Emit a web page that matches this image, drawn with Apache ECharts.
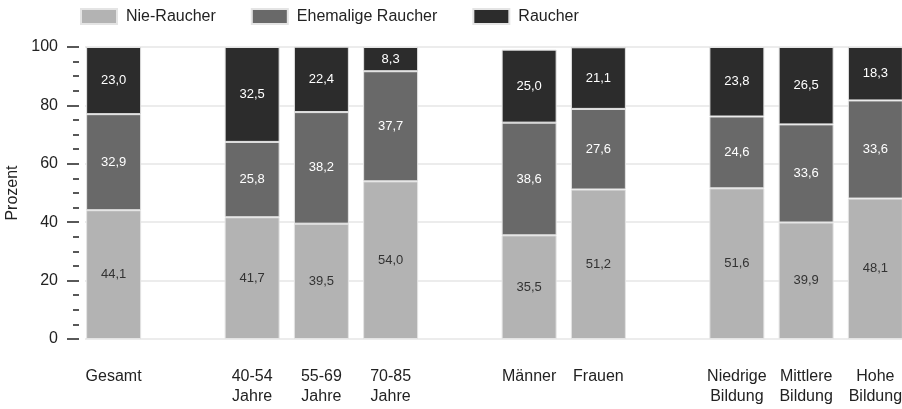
<!DOCTYPE html>
<html>
<head>
<meta charset="utf-8">
<script src="https://cdn.jsdelivr.net/npm/echarts@6/dist/echarts.min.js"></script>
<style>
html,body{margin:0;padding:0;background:#fff;}
#chart{width:902px;height:409px;}
</style>
</head>
<body>
<div id="chart"></div>
<script>
const categories = ['Gesamt', '', '40-54\nJahre', '55-69\nJahre', '70-85\nJahre', '', 'Männer', 'Frauen', '', 'Niedrige\nBildung', 'Mittlere\nBildung', 'Hohe\nBildung'];
const nieRaucher = [44.1, null, 41.7, 39.5, 54.0, null, 35.5, 51.2, null, 51.6, 39.9, 48.1];
const ehemaligeRaucher = [32.9, null, 25.8, 38.2, 37.7, null, 38.6, 27.6, null, 24.6, 33.6, 33.6];
const raucher = [23.0, null, 32.5, 22.4, 8.3, null, 25.0, 21.1, null, 23.8, 26.5, 18.3];
const seriesNames = ['Nie-Raucher', 'Ehemalige Raucher', 'Raucher'];
const yTicks = [0, 20, 40, 60, 80, 100];

const FONT = '"Liberation Sans", Arial, sans-serif';
const fmt = p => p.value == null ? '' : p.value.toFixed(1).replace('.', ',');

function mkSeries(name, data, color, labelColor) {
  return {
    name: name, type: 'bar', stack: 'total', data: data,
    xAxisIndex: 0, yAxisIndex: 0,
    barWidth: 55,
    itemStyle: { color: color, borderColor: '#e4e4e4', borderWidth: 1 },
    label: { show: true, position: 'inside', formatter: fmt, color: labelColor, fontSize: 13, fontFamily: FONT },
    z: 3
  };
}

const chart = echarts.init(document.getElementById('chart'), null, { renderer: 'canvas' });
chart.setOption({
  animation: false,
  backgroundColor: '#ffffff',
  textStyle: { fontFamily: FONT },
  legend: {
    data: seriesNames,
    left: 80, top: 8, padding: 0,
    itemWidth: 36, itemHeight: 15, itemGap: 35,
    icon: 'rect',
    textStyle: { fontSize: 16, color: '#222', fontFamily: FONT, padding: [0, 0, 0, 4] }
  },
  grid: [
    { left: 79, top: 47, width: 831, height: 292, containLabel: false, outerBoundsMode: 'none' },
    { left: 85, top: 47, right: 0, height: 292, containLabel: false, outerBoundsMode: 'none' }
  ],
  xAxis: [
    {
      type: 'category', data: categories, gridIndex: 0,
      axisLine: { show: false }, axisTick: { show: false },
      axisLabel: { interval: 0, fontSize: 16, lineHeight: 20, color: '#222', margin: 28, fontFamily: FONT }
    },
    { type: 'value', gridIndex: 1, show: false, min: 0, max: 1 }
  ],
  yAxis: [
    {
      type: 'value', gridIndex: 0, min: 0, max: 100, interval: 20,
      name: 'Prozent', nameLocation: 'middle', nameGap: 57,
      nameTextStyle: { fontSize: 16, color: '#222', fontFamily: FONT },
      axisLine: { show: false },
      axisTick: { show: true, length: 12, lineStyle: { color: '#222', width: 1.5 } },
      minorTick: { show: true, splitNumber: 4, length: 6, lineStyle: { color: '#222', width: 1.5 } },
      axisLabel: { fontSize: 16, color: '#222', margin: 21, fontFamily: FONT,
        formatter: v => yTicks.indexOf(v) >= 0 ? String(v) : '' },
      splitLine: { show: false }
    },
    {
      type: 'value', gridIndex: 1, min: 0, max: 100, interval: 20,
      axisLine: { show: false }, axisTick: { show: false }, axisLabel: { show: false },
      splitLine: { show: true, lineStyle: { color: '#e6e6e6', width: 1.5 } }
    }
  ],
  series: [
    mkSeries(seriesNames[0], nieRaucher, '#b3b3b3', '#333'),
    mkSeries(seriesNames[1], ehemaligeRaucher, '#696969', '#ffffff'),
    mkSeries(seriesNames[2], raucher, '#2c2c2c', '#ffffff')
  ]
});
</script>
</body>
</html>
